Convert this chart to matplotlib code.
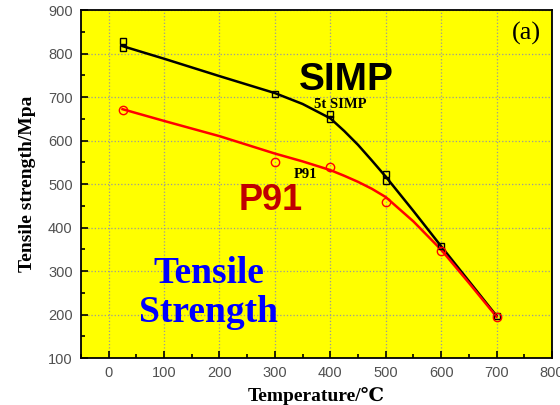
import numpy as np
import matplotlib
matplotlib.use('Agg')
import matplotlib.pyplot as plt
from matplotlib.ticker import MultipleLocator

# 5t SIMP measured points
simp_t = [25, 25, 300, 400, 400, 500, 500, 600, 700]
simp_s = [828, 812, 708, 660, 650, 522, 508, 358, 197]
# P91 measured points
p91_t = [25, 300, 400, 500, 600, 700]
p91_s = [670, 550, 538, 458, 345, 195]

# fitted curves
fit_t = [25, 100, 200, 300, 350, 400, 425, 450, 475, 500, 550, 600, 650, 700]
simp_fit = [817, 788, 748, 709, 684, 651, 622, 590, 554, 517, 438, 357, 277, 197]
p91_fit = [672, 645, 610, 570, 552, 532, 519, 505, 489, 470, 414, 349, 273, 195]

fig = plt.figure(figsize=(5.6, 4.05), dpi=100)
ax = fig.add_axes([0.1446, 0.116, 0.841, 0.8593])
ax.set_facecolor('#ffff00')

ax.plot(fit_t, simp_fit, color='black', lw=1.8, zorder=3, solid_joinstyle='round')
ax.plot(fit_t, p91_fit, color='red', lw=1.8, zorder=3, solid_joinstyle='round')

ax.plot(simp_t, simp_s, ls='none', marker='s', ms=5, mfc='none', mec='black', mew=1.0, zorder=4)
ax.plot(p91_t, p91_s, ls='none', marker='o', ms=6, mfc='none', mec='red', mew=1.0, zorder=4)

ax.set_xlim(-50, 800)
ax.set_ylim(100, 900)
ax.xaxis.set_major_locator(MultipleLocator(100))
ax.xaxis.set_minor_locator(MultipleLocator(50))
ax.yaxis.set_major_locator(MultipleLocator(100))
ax.yaxis.set_minor_locator(MultipleLocator(50))
ax.tick_params(which='both', direction='in', top=False, right=False, width=1.2)
ax.tick_params(which='major', length=5, labelsize=10.5, labelcolor='#505050', pad=6)
ax.tick_params(which='minor', length=3)
for lab in ax.get_xticklabels() + ax.get_yticklabels():
    lab.set_family('Liberation Sans')
ax.grid(True, which='major', ls=':', color='#999999', lw=0.9)
for s in ax.spines.values():
    s.set_linewidth(1.3)

serif = ['Liberation Serif', 'DejaVu Serif']
ax.set_xlabel('Temperature/℃', family=serif, fontweight='bold', fontsize=14, labelpad=5)
ax.set_ylabel('Tensile strength/Mpa', family=serif, fontweight='bold', fontsize=14, labelpad=9)

ax.text(781, 847, '(a)', family=serif, fontsize=19, ha='right', va='center')
ax.text(428, 739, 'SIMP', family='Liberation Sans', fontweight='bold', fontsize=28,
        ha='center', va='center')
ax.text(418, 682, '5t SIMP', family=serif, fontweight='bold', fontsize=10.5, ha='center', va='center')
ax.text(356, 521, 'P91', family=serif, fontweight='bold', fontsize=10.5, ha='center', va='center')
ax.text(293, 463, 'P91', family='Liberation Sans', fontweight='bold', fontsize=26,
        color='#c00000', ha='center', va='center')
ax.text(181, 250, 'Tensile\nStrength', family=serif, fontweight='bold', fontsize=27,
        color='#0000ff', ha='center', va='center', linespacing=1.15)

fig.savefig('out.png', dpi=100)
